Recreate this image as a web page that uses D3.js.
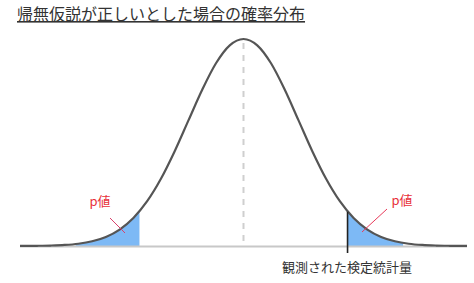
<!DOCTYPE html>
<html><head><meta charset="utf-8">
<script src="https://cdn.jsdelivr.net/npm/d3@7"></script>
<style>body{margin:0;background:#fff}svg{display:block}</style>
</head><body>
<svg id="c" width="474" height="283"></svg>
<script>
// Curve (position in σ units, relative height)
const zs = [-4.06,-3.75,-3.5,-3.25,-3,-2.75,-2.5,-2.25,-2,-1.75,-1.5,-1.25,-1,-0.75,-0.5,-0.25,0,0.25,0.5,0.75,1,1.25,1.5,1.75,2,2.25,2.5,2.75,3,3.25,3.5,3.75,4.06];
const dens = [0.0001,0.0004,0.0009,0.002,0.0044,0.0091,0.0175,0.0317,0.054,0.0863,0.1295,0.1826,0.242,0.3011,0.3521,0.3867,0.3989,0.3867,0.3521,0.3011,0.242,0.1826,0.1295,0.0863,0.054,0.0317,0.0175,0.0091,0.0044,0.002,0.0009,0.0004,0.0001];
const leftTail = [-3.05,-1.89];
const rightTail = [1.89,2.9];
const observed = 1.89;
const title = "帰無仮説が正しいとした場合の確率分布";
const pLabel = "p値";
const obsLabel = "観測された検定統計量";

const svg = d3.select("#c");
const x = d3.scaleLinear().domain([-4.06,4.06]).range([20,467]);
const y = d3.scaleLinear().domain([0,0.3989]).range([246,39]);
const pts = zs.map((z,i)=>({z, d:dens[i]}));

const defs = svg.append("defs");
[["cl",leftTail],["cr",rightTail]].forEach(([id,t])=>{
  defs.append("clipPath").attr("id",id).append("rect")
    .attr("x",x(t[0])).attr("y",0).attr("width",x(t[1])-x(t[0])).attr("height",246);
});
const area = d3.area().x(p=>x(p.z)).y0(y(0)).y1(p=>y(p.d)).curve(d3.curveMonotoneX);
["cl","cr"].forEach(id=>{
  svg.append("path").datum(pts).attr("d",area).attr("fill","#7db9f5").attr("clip-path",`url(#${id})`);
});

// baseline
svg.append("line").attr("x1",x(-4.06)).attr("x2",x(4.06)).attr("y1",y(0)+0.5).attr("y2",y(0)+0.5)
  .attr("stroke","#c8c8c8").attr("stroke-width",2);
// center dashed
svg.append("line").attr("x1",x(0)).attr("x2",x(0)).attr("y1",y(0.3989)+4).attr("y2",y(0))
  .attr("stroke","#cfcfcf").attr("stroke-width",2).attr("stroke-dasharray","6,6");
// curve
const line = d3.line().x(p=>x(p.z)).y(p=>y(p.d)).curve(d3.curveMonotoneX);
svg.append("path").datum(pts).attr("d",line).attr("fill","none").attr("stroke","#555").attr("stroke-width",2.2);

// observed line
const obsD = 0.066;
svg.append("line").attr("x1",x(observed)).attr("x2",x(observed)).attr("y1",y(obsD)).attr("y2",253)
  .attr("stroke","#222").attr("stroke-width",1.6);

// p labels
svg.append("text").attr("x",100).attr("y",206).attr("text-anchor","middle")
  .attr("font-family","Noto Sans CJK JP").attr("font-size",13).attr("fill","#e8303a").text(pLabel);
svg.append("line").attr("x1",110).attr("y1",218).attr("x2",125).attr("y2",233).attr("stroke","#d8406a").attr("stroke-width",1);
svg.append("text").attr("x",402).attr("y",205).attr("text-anchor","middle")
  .attr("font-family","Noto Sans CJK JP").attr("font-size",13).attr("fill","#e8303a").text(pLabel);
svg.append("line").attr("x1",387).attr("y1",209).attr("x2",362).attr("y2",232).attr("stroke","#e83a5a").attr("stroke-width",1);

// observed label
svg.append("text").attr("x",347).attr("y",272).attr("text-anchor","middle")
  .attr("font-family","Noto Sans CJK JP").attr("font-size",13).attr("fill","#333").text(obsLabel);

// title
svg.append("text").attr("x",17).attr("y",20)
  .attr("font-family","Noto Sans CJK JP").attr("font-size",16).attr("fill","#333")
  .attr("text-decoration","underline").text(title);
</script>
</body></html>
